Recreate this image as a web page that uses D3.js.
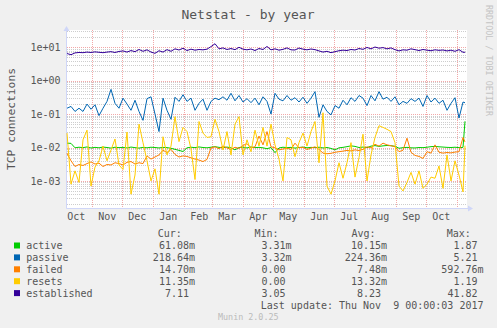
<!DOCTYPE html>
<html><head><meta charset="utf-8">
<script src="https://cdn.jsdelivr.net/npm/d3@7"></script>
<style>
html,body{margin:0;padding:0;background:#f0f0f0;}
svg{display:block;font-family:"DejaVu Sans Mono",monospace;}
</style></head><body>
<svg id="c" width="497" height="328"></svg>
<script>
// ---------- data ----------
const seriesNames = ["active", "passive", "failed", "resets", "established"];
const seriesColors = ["#00CC00", "#0066B3", "#FF8000", "#FFCC00", "#330099"];

// sample days since graph start (every 4 days, plus the last reading)
const sampleDays = d3.range(0, 400, 4).concat([398]);

const active = [
  0.0135,0.0133,0.0098,0.0102,0.0099,0.0104,0.0097,0.0101,0.0098,0.0103,
  0.0100,0.0096,0.0102,0.0099,0.0101,0.0097,0.0103,0.0099,0.0096,0.0101,
  0.0098,0.0102,0.0100,0.0097,0.0101,0.0099,0.0095,0.0088,0.0082,0.0076,
  0.0098,0.0102,0.0099,0.0104,0.0100,0.0098,0.0102,0.0106,0.0101,0.0099,
  0.0103,0.0098,0.0085,0.0100,0.0102,0.0097,0.0104,0.0099,0.0101,0.0098,
  0.0092,0.0100,0.0070,0.0097,0.0102,0.0099,0.0101,0.0096,0.0100,0.0103,
  0.0098,0.0101,0.0099,0.0102,0.0097,0.0100,0.0094,0.0085,0.0098,0.0101,
  0.0106,0.0112,0.0108,0.0100,0.0103,0.0099,0.0110,0.0114,0.0108,0.0112,
  0.0115,0.0113,0.0109,0.0095,0.0099,0.0101,0.0098,0.0097,0.0100,0.0099,
  0.0102,0.0106,0.0108,0.0105,0.0103,0.0101,0.0100,0.0102,0.0099,0.0101,
  0.0611];
const passive = [
  0.15,0.17,0.12,0.15,0.12,0.20,0.14,0.19,0.09,0.15,
  0.24,0.55,0.21,0.15,0.30,0.20,0.13,0.26,0.12,0.065,
  0.29,0.33,0.10,0.030,0.30,0.13,0.07,0.32,0.24,0.38,
  0.24,0.30,0.13,0.21,0.28,0.13,0.24,0.30,0.27,0.33,
  0.26,0.42,0.25,0.36,0.23,0.29,0.22,0.30,0.19,0.33,
  0.24,0.10,0.42,0.28,0.25,0.36,0.26,0.31,0.23,0.32,
  0.21,0.30,0.47,0.08,0.19,0.12,0.095,0.18,0.15,0.26,
  0.19,0.31,0.24,0.36,0.30,0.18,0.36,0.25,0.47,0.28,
  0.32,0.24,0.33,0.19,0.24,0.21,0.29,0.24,0.30,0.17,
  0.36,0.23,0.30,0.21,0.26,0.13,0.21,0.31,0.076,0.23,
  0.2186];
const failed = [
  0.0067,0.0040,0.0027,0.0031,0.0029,0.0033,0.0037,0.0032,0.0034,0.0027,
  0.0031,0.0030,0.0035,0.0033,0.0030,0.0036,0.0038,0.0032,0.0035,0.0033,
  0.0056,0.0045,0.0052,0.0060,0.0083,0.0070,0.0088,0.0062,0.0052,0.0056,
  0.0054,0.0049,0.0045,0.0042,0.0038,0.0044,0.0098,0.0105,0.0092,0.0110,
  0.0098,0.0087,0.0102,0.0094,0.0115,0.0130,0.0098,0.0105,0.0220,0.0120,
  0.0300,0.0105,0.0098,0.0085,0.0090,0.0095,0.0088,0.0135,0.0098,0.0102,
  0.0087,0.0096,0.0105,0.0088,0.0068,0.0065,0.0067,0.0072,0.0075,0.0078,
  0.0082,0.0079,0.0085,0.0081,0.0088,0.0105,0.0098,0.0125,0.0110,0.0135,
  0.0120,0.0113,0.0105,0.0075,0.0083,0.0190,0.0072,0.0058,0.0054,0.0047,
  0.0075,0.0068,0.0120,0.0072,0.0068,0.0071,0.0069,0.0073,0.0075,0.0200,
  0.0147];
const resets = [
  0.027,0.0008,0.002,0.0009,0.017,0.033,0.0007,0.0026,0.004,0.011,
  0.004,0.0084,0.018,0.003,0.0022,0.029,0.0004,0.0015,0.05,0.014,
  0.004,0.001,0.0023,0.0004,0.021,0.006,0.011,0.084,0.015,0.04,
  0.03,0.009,0.0011,0.06,0.027,0.02,0.021,0.07,0.03,0.0084,
  0.03,0.006,0.05,0.084,0.006,0.017,0.0075,0.033,0.011,0.04,
  0.011,0.05,0.012,0.0045,0.001,0.02,0.017,0.0053,0.014,0.027,
  0.011,0.03,0.06,0.0035,0.11,0.0007,0.0004,0.001,0.0035,0.0012,
  0.0035,0.014,0.0013,0.005,0.025,0.001,0.006,0.02,0.045,0.04,
  0.035,0.03,0.014,0.0007,0.0005,0.0009,0.0018,0.0008,0.002,0.0006,
  0.0008,0.0013,0.0012,0.0028,0.0006,0.006,0.001,0.004,0.0015,0.00047,
  0.01135];
const established = [
  6.5,6.0,6.8,7.0,6.9,7.2,7.0,7.3,7.1,6.9,
  7.2,7.4,7.0,7.5,7.8,7.2,8.0,7.4,8.6,7.6,
  8.4,7.2,6.6,7.9,7.2,8.5,7.6,9.0,8.3,9.4,
  8.0,8.8,8.2,8.6,8.4,8.8,10.5,12.8,9.0,9.6,
  8.6,9.2,8.5,10.0,8.8,8.4,8.9,8.0,9.2,8.6,
  10.6,8.4,9.0,8.2,8.7,9.6,8.4,8.3,9.5,8.8,
  8.4,8.9,8.5,7.8,7.2,7.6,6.9,7.4,7.9,8.2,
  8.0,8.6,8.3,9.2,8.7,9.9,9.0,10.2,9.4,9.8,
  9.0,9.6,8.5,7.8,8.4,8.2,9.0,8.5,8.0,8.6,
  8.2,7.9,8.4,8.1,8.3,7.8,8.2,7.6,8.5,7.1,
  7.11];
const seriesValues = [active, passive, failed, resets, established];

const yTickValues = [1e-3, 1e-2, 1e-1, 1e0, 1e1];
const yTickLabels = ["1e-03", "1e-02", "1e-01", "1e+00", "1e+01"];
const xTickLabels = ["Oct","Nov","Dec","Jan","Feb","Mar","Apr","May","Jun","Jul","Aug","Sep","Oct"];

const legendHeaders = ["Cur:", "Min:", "Avg:", "Max:"];
const legendCur = ["61.08m", "218.64m", "14.70m", "11.35m", "7.11 "];
const legendMin = ["3.31m", "3.32m", "0.00 ", "0.00 ", "3.05 "];
const legendAvg = ["10.15m", "224.36m", "7.48m", "13.32m", "8.23 "];
const legendMax = ["1.87 ", "5.21 ", "592.76m", "1.19 ", "41.82 "];

const titleText = "Netstat - by year";
const yAxisTitle = "TCP connections";
const lastUpdate = "Last update: Thu Nov  9 00:00:03 2017";
const footer = "Munin 2.0.25";
const watermark = "RRDTOOL / TOBI OETIKER";

// ---------- layout ----------
const W = 497, H = 328;
const L = 67, R = 467, T = 30, B = 208;
const start = new Date(Date.UTC(2016, 9, 6, 16, 48));
const end = d3.utcDay.offset(start, 400);

const x = d3.scaleTime().domain([start, end]).range([L, R]);
const y = d3.scaleLog().domain([1.545e-4, 32.96]).range([B, T]);

const svg = d3.select("#c");
const txt = "#555555";
const nb = s => s.replace(/ /g, "\u00a0");

svg.append("rect").attr("width", W).attr("height", H).attr("fill", "#f0f0f0");
svg.append("rect").attr("x", L).attr("y", T).attr("width", R - L).attr("height", B - T).attr("fill", "#ffffff");

// grid
const gGrid = svg.append("g").attr("shape-rendering", "crispEdges");
const minor = [];
for (let n = -4; n <= 1; n++) for (let k = 2; k <= 9; k++) {
  const v = k * Math.pow(10, n);
  if (v > y.domain()[0] && v < y.domain()[1]) minor.push(v);
}
gGrid.selectAll("line.mi").data(minor).join("line")
  .attr("x1", L).attr("x2", R)
  .attr("y1", d => Math.round(y(d)) + 0.5).attr("y2", d => Math.round(y(d)) + 0.5)
  .attr("stroke", "#cdcdcd").attr("stroke-dasharray", "1,1");
gGrid.selectAll("line.ma").data(yTickValues).join("line")
  .attr("x1", L).attr("x2", R)
  .attr("y1", d => Math.round(y(d)) + 0.5).attr("y2", d => Math.round(y(d)) + 0.5)
  .attr("stroke", "#f2a8a8").attr("stroke-dasharray", "1,1");
const monthStarts = d3.utcMonth.range(d3.utcMonth.ceil(start), end);
gGrid.selectAll("line.vm").data(monthStarts).join("line")
  .attr("x1", d => Math.round(x(d)) + 0.5).attr("x2", d => Math.round(x(d)) + 0.5)
  .attr("y1", T).attr("y2", B)
  .attr("stroke", "#f2a8a8").attr("stroke-dasharray", "1,1");

// axes
const axisC = "#cfd6f8";
svg.append("line").attr("x1", L - 0.5).attr("x2", L - 0.5).attr("y1", B + 0.5).attr("y2", T - 1)
  .attr("stroke", axisC).attr("stroke-width", 1);
svg.append("line").attr("x1", L - 0.5).attr("x2", R + 1).attr("y1", B + 0.5).attr("y2", B + 0.5)
  .attr("stroke", axisC).attr("stroke-width", 1);
svg.append("path").attr("d", `M${L - 3.5},${T + 1} L${L - 0.5},${T - 4} L${L + 2.5},${T + 1} Z`).attr("fill", axisC);
svg.append("path").attr("d", `M${R + 1},${B - 2.5} L${R + 6},${B + 0.5} L${R + 1},${B + 3.5} Z`).attr("fill", axisC);

// y tick labels
svg.selectAll("text.yt").data(yTickValues).join("text")
  .attr("x", 60.5).attr("y", d => y(d)).attr("dy", "0.36em")
  .attr("text-anchor", "end").attr("font-size", 10).attr("fill", txt)
  .text((d, i) => yTickLabels[i]);

// x tick labels (centred half a month after each month start)
const labelMonths = d3.utcMonth.range(d3.utcMonth.floor(start), end).slice(0, xTickLabels.length);
svg.selectAll("text.xt").data(labelMonths).join("text")
  .attr("x", d => x(d3.utcDay.offset(d, 15))).attr("y", 220)
  .attr("text-anchor", "middle").attr("font-size", 10).attr("fill", txt)
  .text((d, i) => xTickLabels[i]);

// series lines
const dates = sampleDays.map(dd => d3.utcDay.offset(start, dd));
const line = d3.line().x(d => x(d[0])).y(d => y(d[1]));
const gLines = svg.append("g");
seriesValues.forEach((vals, si) => {
  gLines.append("path")
    .datum(vals.map((v, i) => [dates[i], v]))
    .attr("d", line).attr("fill", "none")
    .attr("stroke", seriesColors[si]).attr("stroke-width", 1)
    .attr("stroke-linejoin", "round");
});

// titles
svg.append("text").attr("x", 248).attr("y", 18.5).attr("text-anchor", "middle")
  .attr("font-size", 13).attr("fill", txt).text(titleText);
svg.append("text").attr("transform", "translate(15,119) rotate(-90)").attr("text-anchor", "middle")
  .attr("font-size", 11.3).attr("fill", txt).text(yAxisTitle);
svg.append("text").attr("transform", "translate(485.5,5) rotate(90)")
  .attr("font-size", 8.4).attr("fill", "#c4c4c4").text(watermark);

// legend
const headerX = [157.7, 254.5, 351.5, 446.7];
svg.selectAll("text.lh").data(legendHeaders).join("text")
  .attr("x", (d, i) => headerX[i]).attr("y", 236.8)
  .attr("font-size", 10).attr("fill", txt).text(d => d);
const rowY = seriesNames.map((d, i) => 249.2 + i * 11.9);
seriesNames.forEach((name, i) => {
  svg.append("rect").attr("x", 14).attr("y", rowY[i] - 6.7).attr("width", 6).attr("height", 6)
    .attr("fill", seriesColors[i]);
  svg.append("text").attr("x", 26.3).attr("y", rowY[i]).attr("font-size", 10).attr("fill", txt).text(name);
});
const cols = [legendCur, legendMin, legendAvg, legendMax];
const colRight = [195, 291.5, 387, 483.5];
cols.forEach((col, ci) => {
  col.forEach((s, ri) => {
    svg.append("text").attr("x", colRight[ci]).attr("y", rowY[ri]).attr("text-anchor", "end")
      .attr("font-size", 10).attr("fill", txt).text(nb(s));
  });
});
svg.append("text").attr("x", 483.5).attr("y", 309).attr("text-anchor", "end")
  .attr("font-size", 10).attr("fill", txt).text(nb(lastUpdate));
svg.append("text").attr("x", 248.3).attr("y", 320).attr("text-anchor", "middle")
  .attr("font-size", 8.4).attr("fill", "#bbbbbb").text(footer);
</script>
</body></html>
